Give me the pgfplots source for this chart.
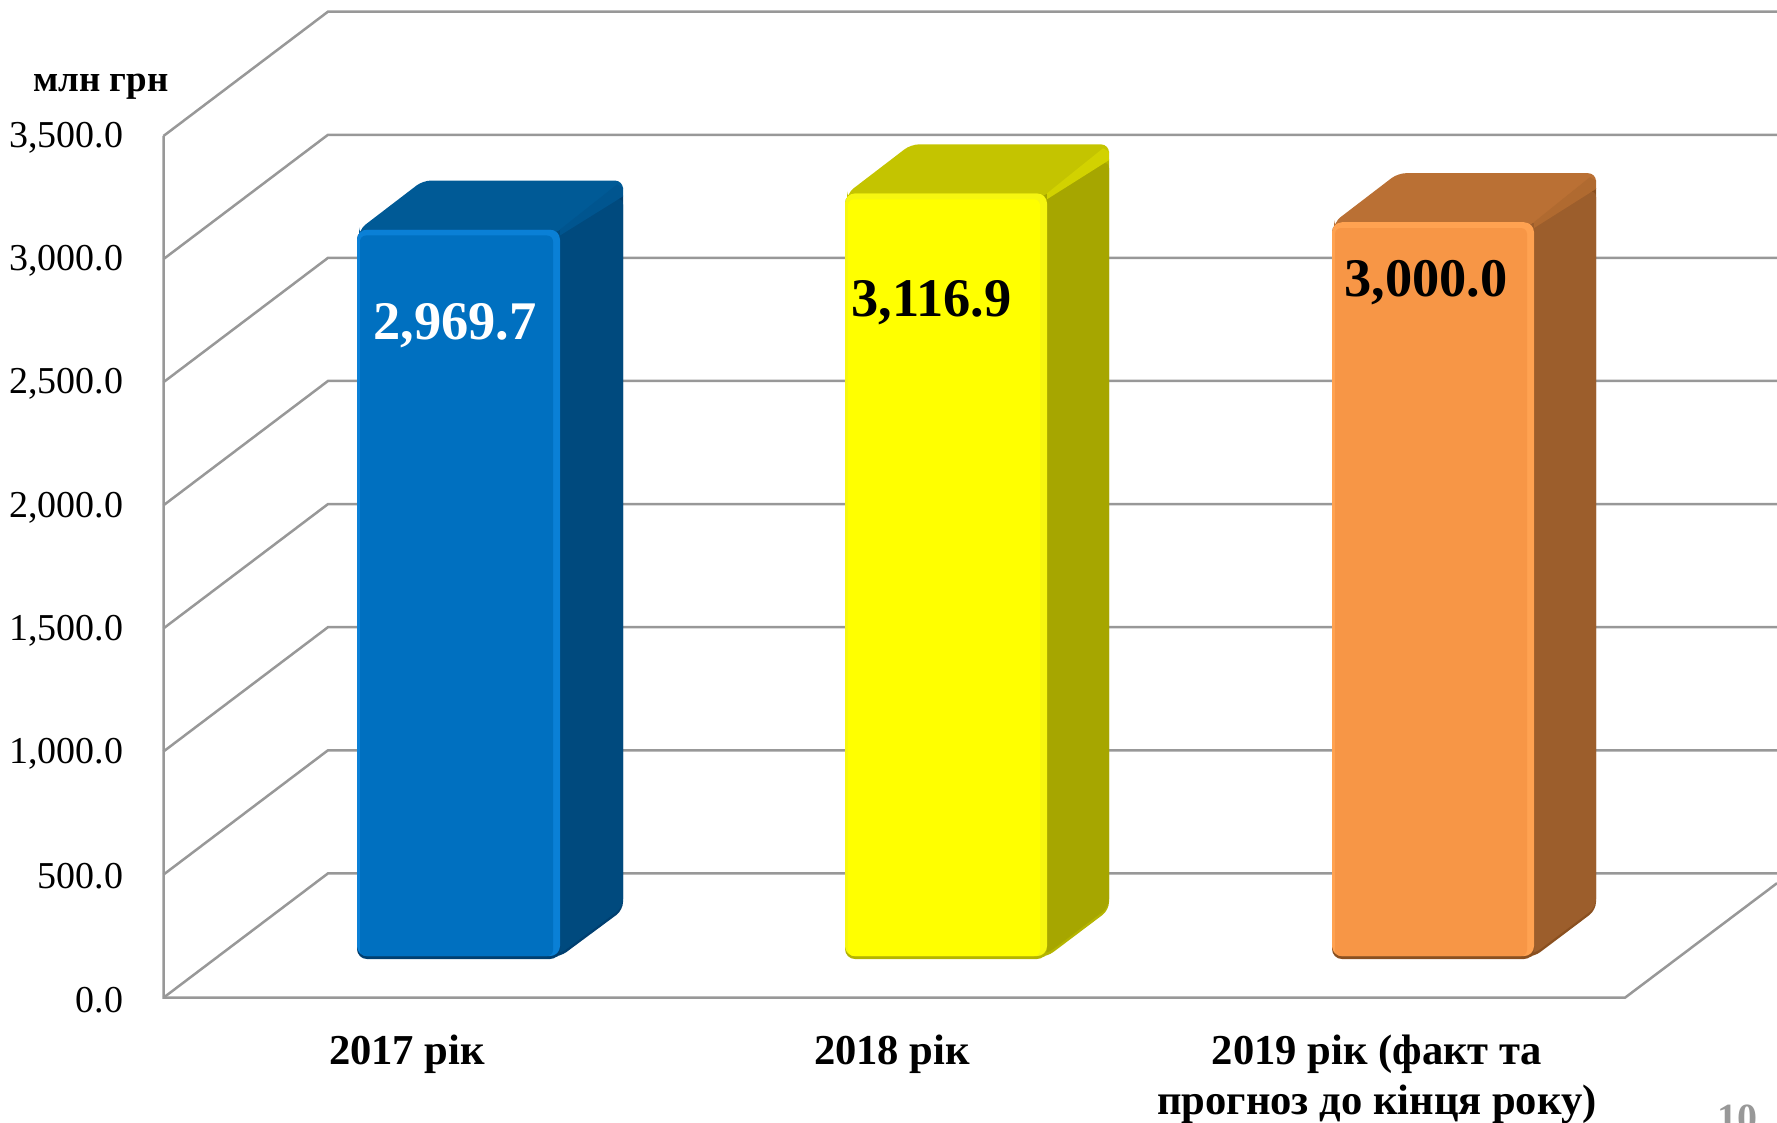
\documentclass[border=0pt]{standalone}
\usepackage{fontspec}
\setmainfont{Liberation Serif}
\usepackage{pgfplots}
\pgfplotsset{compat=1.18}
\definecolor{gridc}{HTML}{989898}
\definecolor{afront}{HTML}{0070C0}\definecolor{abevel}{HTML}{0A80D6}\definecolor{adark}{HTML}{003F70}
\definecolor{atop}{HTML}{005A96}\definecolor{aside}{HTML}{004A7E}\definecolor{aridge}{HTML}{00558F}
\definecolor{bfront}{HTML}{FFFF00}\definecolor{bbevel}{HTML}{F6F610}\definecolor{bdark}{HTML}{B4B400}
\definecolor{btop}{HTML}{C4C400}\definecolor{bside}{HTML}{A6A600}\definecolor{bridge}{HTML}{D2D200}
\definecolor{cfront}{HTML}{F79646}\definecolor{cbevel}{HTML}{FFA251}\definecolor{cdark}{HTML}{8A5020}
\definecolor{ctop}{HTML}{BA7034}\definecolor{cside}{HTML}{9C5E2C}\definecolor{cridge}{HTML}{B06A30}
% one bar: \xa front left, \xb back left, \xc front right, \xd back right,
% \xu,\xv points under the front face, \yt front top, \yi top of the inner face, \yb back top
\newcommand{\threedbar}[1]{%
  \addplot[fill=#1dark,draw=none,rounded corners=4pt] coordinates {(\xv,\yi)(\xd,\yf)(\xd,356)(\xc,166)(\xv,166)} -- cycle;
  \addplot[fill=#1top,draw=none,rounded corners=4pt] coordinates {(\xu,\yi)(\xu,\yt)(\xb,\yb)(\xd,\yb)(\xd,\yh)(\xv,\yi)} -- cycle;
  \addplot[fill=#1side,draw=none,rounded corners=4pt] coordinates {(\xv,\yi)(\xd,\yh)(\xd,368)(\xc,178)(\xv,178)} -- cycle;
  \addplot[fill=#1ridge,draw=none] coordinates {(\xc,\yt)(\xe,\yg)(\xd,\yf)(\xd,\yh)(\xc,\yi)} -- cycle;
  \addplot[fill=#1dark,draw=none,rounded corners=5pt] coordinates {(\xa,157)(\xa,\yt)(\xc,\yt)(\xc,157)} -- cycle;
  \addplot[fill=#1bevel,draw=none,rounded corners=5pt] coordinates {(\xa,169)(\xa,\yt)(\xc,\yt)(\xc,169)} -- cycle;
  \addplot[fill=#1front,draw=none,rounded corners=3pt] coordinates {(\xw,169)(\xw,\yi)(\xh,\yi)(\xh,169)} -- cycle;
}
\begin{document}
\begin{tikzpicture}
\useasboundingbox (0,0) rectangle (888.5pt,561.5pt);
\begin{axis}[
  at={(81.75pt,62.65pt)},anchor=south west,
  scale only axis,width=730.75pt,height=430.85pt,
  xmin=163.5,xmax=1625,ymin=0,ymax=3500,
  clip=false,
  axis line style={draw=none},
  major tick length=0pt,
  ytick={0,500,1000,1500,2000,2500,3000,3500},
  xtick={407,892,1377},
  xticklabels={2017 рік,2018 рік,{2019 рік (факт та\\прогноз до кінця року)}},
  y tick label style={font=\fontsize{19}{23}\selectfont,inner sep=0pt,xshift=-20pt,yshift=-1pt},
  x tick label style={font=\fontsize{21.3}{25}\selectfont\bfseries,align=center,inner sep=0pt,yshift=-18.6pt},
  yticklabel style={/pgf/number format/.cd,assume math mode=true,fixed,fixed zerofill,precision=1,1000 sep={,}},
]
% walls and grid lines
\addplot[gridc,line width=1.25pt] coordinates {(163.5,3500)(163.5,0)(1625,0)(1777,465)};
\addplot[gridc,line width=1.25pt] coordinates {(163.5,0)(328,505)(1777,505)};
\addplot[gridc,line width=1.25pt] coordinates {(163.5,500)(328,1005)(1777,1005)};
\addplot[gridc,line width=1.25pt] coordinates {(163.5,1000)(328,1505)(1777,1505)};
\addplot[gridc,line width=1.25pt] coordinates {(163.5,1500)(328,2005)(1777,2005)};
\addplot[gridc,line width=1.25pt] coordinates {(163.5,2000)(328,2505)(1777,2505)};
\addplot[gridc,line width=1.25pt] coordinates {(163.5,2500)(328,3005)(1777,3005)};
\addplot[gridc,line width=1.25pt] coordinates {(163.5,3000)(328,3505)(1777,3505)};
\addplot[gridc,line width=1.25pt] coordinates {(163.5,3500)(328,4005)(1777,4005)};
% 2017: 2969.7
\def\xa{357}\def\xb{423}\def\xc{560}\def\xd{623}\def\xe{617}\def\xh{553}
\def\xu{359}\def\xv{550}\def\xw{360}
\def\yt{3120}\def\yi{3096}\def\yb{3319}\def\yf{3290}\def\yg{3303}\def\yh{3255}
\threedbar{a}
% 2018: 3116.9
\def\xa{845}\def\xb{911}\def\xc{1047}\def\xd{1109}\def\xe{1103}\def\xh{1040}
\def\xu{847}\def\xv{1037}\def\xw{848}
\def\yt{3267}\def\yi{3243}\def\yb{3466}\def\yf{3437}\def\yg{3450}\def\yh{3402}
\threedbar{b}
% 2019: 3000.0
\def\xa{1332}\def\xb{1398}\def\xc{1534}\def\xd{1596}\def\xe{1590}\def\xh{1527}
\def\xu{1334}\def\xv{1524}\def\xw{1335}
\def\yt{3150}\def\yi{3126}\def\yb{3349}\def\yf{3320}\def\yg{3333}\def\yh{3285}
\threedbar{c}
\node[font=\fontsize{27.2}{30}\selectfont\bfseries,text=white] at (axis cs:455,2729) {2,969.7};
\node[font=\fontsize{27.2}{30}\selectfont\bfseries,text=black] at (axis cs:931.5,2822) {3,116.9};
\node[font=\fontsize{27.2}{30}\selectfont\bfseries,text=black] at (axis cs:1426,2903) {3,000.0};
\node[font=\fontsize{18.5}{22}\selectfont\bfseries] at (axis cs:101,3699) {млн грн};
\node[font=\fontsize{20}{24}\selectfont\bfseries,text=gridc,anchor=base] at (axis cs:1737,-545) {10};
\end{axis}
\end{tikzpicture}
\end{document}
